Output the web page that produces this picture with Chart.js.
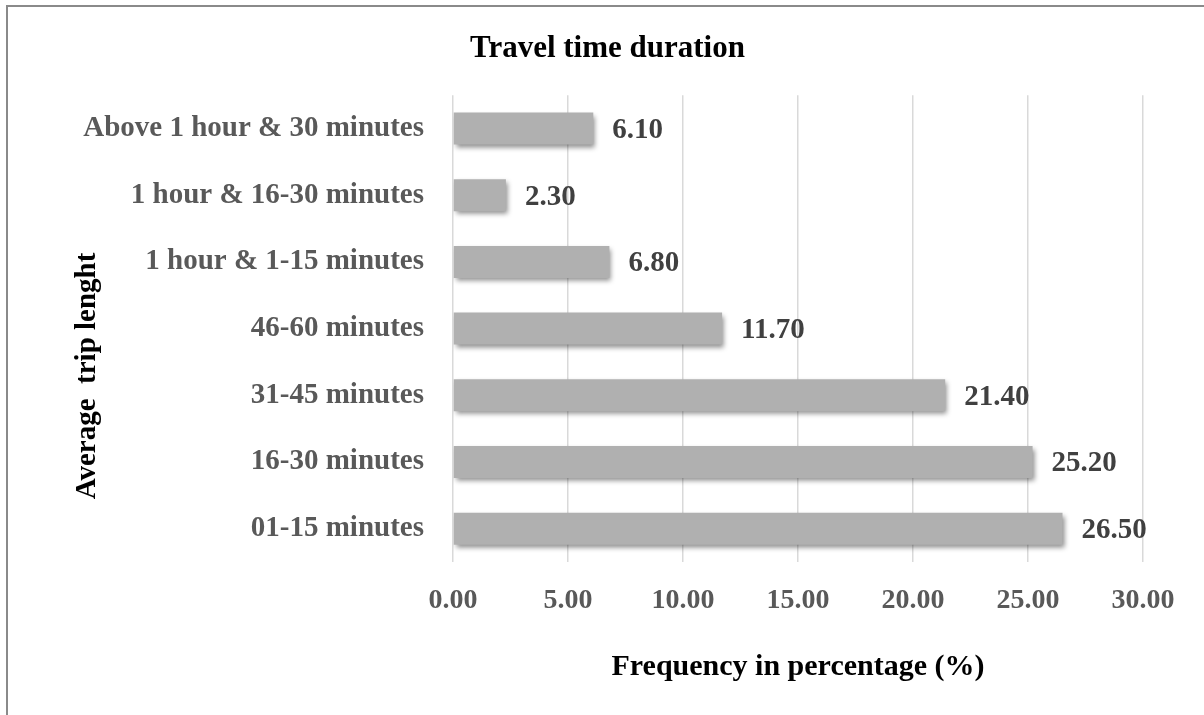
<!DOCTYPE html>
<html>
<head>
<meta charset="utf-8">
<script src="https://cdn.jsdelivr.net/npm/chart.js@4.4.1/dist/chart.umd.min.js"></script>
<style>
  html, body { margin: 0; padding: 0; background: #fff; }
  #wrap { position: relative; width: 1204px; height: 715px; }
  #frame { position: absolute; left: 6px; top: 5px; right: -10px; bottom: -10px; border-left: 2px solid #8a8a8a; border-top: 2px solid #8a8a8a; }
  canvas { position: absolute; left: 0; top: 0; }
</style>
</head>
<body>
<div id="wrap">
  <div id="frame"></div>
  <canvas id="myChart" width="1204" height="715"></canvas>
</div>
<script>
const categories = ['Above 1 hour & 30 minutes', '1 hour & 16-30 minutes', '1 hour & 1-15 minutes', '46-60 minutes', '31-45 minutes', '16-30 minutes', '01-15 minutes'];
const frequencies = [6.10, 2.30, 6.80, 11.70, 21.40, 25.20, 26.50];
const xTicks = [0, 5, 10, 15, 20, 25, 30];

const serif = "'Liberation Serif', 'Times New Roman', serif";
const chartContext = document.getElementById('myChart').getContext('2d');

function barGradient(context) {
  const el = context.element;
  const ctx = context.chart.ctx;
  if (!el || el.y === undefined || !el.height) return '#b0b0b0';
  const top = el.y - el.height / 2;
  const g = ctx.createLinearGradient(0, top, 0, top + el.height);
  g.addColorStop(0, '#c6c6c6');
  g.addColorStop(0.5, '#b3b3b3');
  g.addColorStop(1, '#939393');
  return g;
}

// soft shadow under the bars
const barShadow = {
  id: 'barShadow',
  beforeDatasetsDraw(chart) {
    const ctx = chart.ctx;
    ctx.save();
    ctx.shadowColor = 'rgba(0,0,0,0.45)';
    ctx.shadowBlur = 5;
    ctx.shadowOffsetX = 2;
    ctx.shadowOffsetY = 3;
  },
  afterDatasetsDraw(chart) {
    chart.ctx.restore();
  }
};

// value labels at the end of each bar, plus the rotated y title
const valueLabels = {
  id: 'valueLabels',
  afterDraw(chart) {
    const ctx = chart.ctx;
    const meta = chart.getDatasetMeta(0);
    ctx.save();
    ctx.font = 'bold 29px ' + serif;
    ctx.fillStyle = '#404040';
    ctx.textAlign = 'left';
    ctx.textBaseline = 'middle';
    meta.data.forEach((bar, i) => {
      ctx.fillText(frequencies[i].toFixed(2), bar.x + 19, bar.y + 2);
    });
    ctx.restore();

    ctx.save();
    ctx.font = 'bold 29px ' + serif;
    ctx.fillStyle = '#000';
    ctx.textAlign = 'center';
    ctx.textBaseline = 'middle';
    ctx.translate(88, 376);
    ctx.rotate(-Math.PI / 2);
    ctx.fillText('Average  trip lenght', 0, 0);
    ctx.restore();
  }
};

const stockChart = new Chart(chartContext, {
  type: 'bar',
  data: {
    labels: categories,
    datasets: [{
      label: 'Frequency',
      data: frequencies,
      backgroundColor: barGradient,
      borderWidth: 0,
      categoryPercentage: 1,
      barPercentage: 0.48
    }]
  },
  options: {
    indexAxis: 'y',
    responsive: false,
    animation: false,
    layout: { padding: { left: 72, right: 61, top: 0, bottom: 0 } },
    plugins: {
      legend: { display: false },
      tooltip: { enabled: false },
      title: {
        display: true,
        text: 'Travel time duration',
        color: '#000',
        font: { family: serif, size: 31, weight: 'bold' },
        padding: { top: 30, bottom: 28 }
      }
    },
    scales: {
      x: {
        min: 0,
        max: 30,
        afterBuildTicks: scale => { scale.ticks = xTicks.map(v => ({ value: v })); },
        afterFit: scale => { scale.height = 153; },
        grid: { color: '#d9d9d9', lineWidth: 1.5, drawTicks: false },
        border: { display: false },
        ticks: {
          padding: 22,
          color: '#595959',
          font: { family: serif, size: 28, weight: 'bold' },
          callback: v => Number(v).toFixed(2)
        },
        title: {
          display: true,
          text: 'Frequency in percentage (%)',
          color: '#000',
          font: { family: serif, size: 30, weight: 'bold' },
          padding: { top: 0, bottom: 30 }
        }
      },
      y: {
        afterFit: scale => { scale.width = 381; },
        grid: { display: false, drawTicks: false },
        border: { display: false },
        ticks: {
          padding: 29,
          color: '#595959',
          font: { family: serif, size: 29, weight: 'bold' }
        }
      }
    }
  },
  plugins: [barShadow, valueLabels]
});
</script>
</body>
</html>
